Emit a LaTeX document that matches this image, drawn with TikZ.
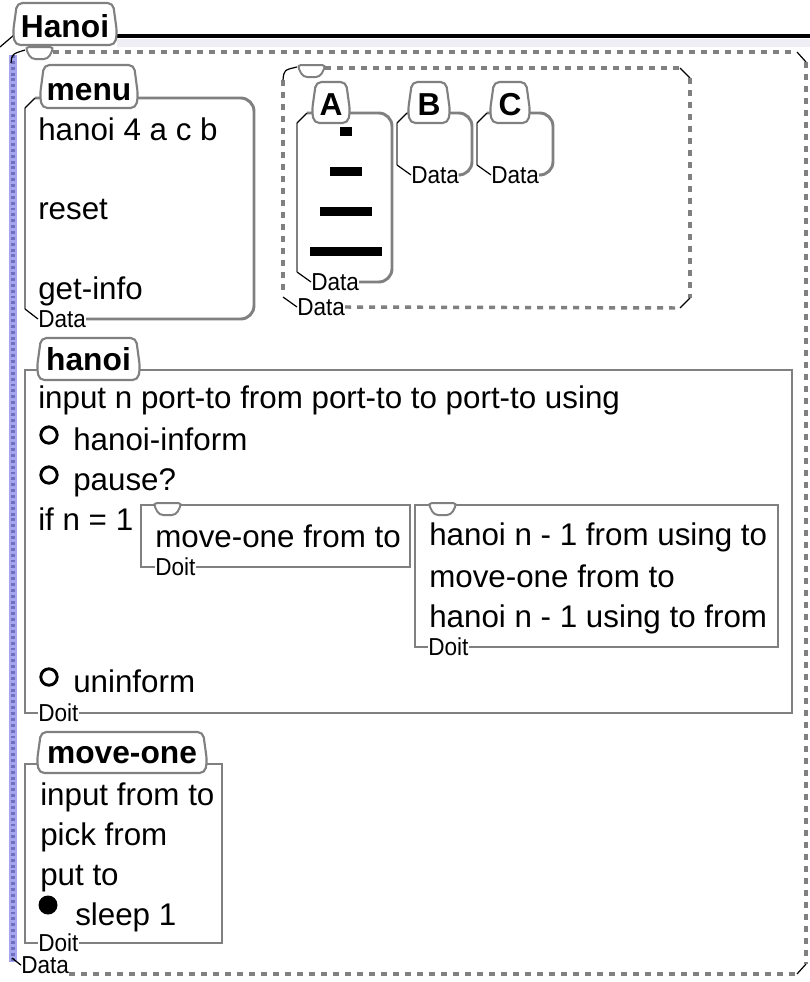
\documentclass[tikz,border=0pt]{standalone}
\usepackage{fontspec}
\setmainfont{Liberation Sans}
\newfontfamily\narrowfont[FakeStretch=0.92]{Liberation Sans}
\definecolor{boxgray}{HTML}{808080}
\definecolor{lavender}{HTML}{A6A6EE}
\definecolor{lavdash}{HTML}{7070C0}
\definecolor{bandgray}{HTML}{EEEEF4}
\begin{document}
\begin{tikzpicture}[x=0.75pt, y=-0.75pt,
	body/.style={boxgray, line width=2.2pt},
	dashbox/.style={boxgray, line width=2.6pt, dash pattern=on 4.5pt off 4.5pt},
	corner/.style={black, line width=0.9pt},
	tabline/.style={boxgray, line width=1.6pt, rounded corners=4pt, fill=white},
	txt/.style={anchor=base west, inner sep=0pt, font=\fontsize{23.5}{28}\selectfont},
	title/.style={anchor=base, inner sep=0pt, font=\fontsize{23.8}{28}\selectfont\bfseries},
	lbl/.style={anchor=west, inner sep=0pt, font=\narrowfont\fontsize{18.4}{20}\selectfont}]
	\useasboundingbox (0,0) rectangle (810,982);

	% outer Hanoi box
	\fill[bandgray] (117,39) rectangle (810,47);
	\draw[black, line width=3pt] (110,36) -- (810,36);
	\draw[corner] (0,47) -- (14,35);
	\fill[lavender] (9,55) rectangle (17,962);
	\draw[lavdash, line width=3pt, dash pattern=on 2.2pt off 2.2pt] (13,55) -- (13,962);
	\node[lbl, anchor=south west] (outerdata) at (21,974) {Data};
	\draw[corner] (11,63) .. controls (12,54) .. (25,50);
	\draw[dashbox] (53,52) -- (797,52);
	\draw[corner] (797,52) -- (806,62);
	\draw[dashbox] (806,62) -- (806,964);
	\draw[corner] (806,964) -- (797,974);
	\draw[dashbox] (outerdata.south east) -- (797,974);
	\draw[corner] (12,958) -- (outerdata.west);

	% menu
	\node[lbl] (menudata) at (38,319) {Data};
	\draw[body, rounded corners=10pt] (menudata.east) -- (254,319) -- (254,98) -- (35,98);
	\draw[body] (25,108) -- (25,309);
	\draw[corner] (25,108) -- (35,98);
	\draw[corner] (25,309) -- (menudata.west);
	\node[txt] (menu1) at (38,140) {hanoi 4 a c b};
	\node[txt] (menu2) at (38,219) {reset};
	\node[txt] (menu3) at (38,299) {get-info};

	% towers
	\node[lbl] (abcdata) at (297,307) {Data};
	\draw[dashbox] (283,80) -- (283,296);
	\draw[corner] (283,80) .. controls (284,70) .. (297,67);
	\draw[dashbox] (325,68) -- (680,68);
	\draw[corner] (680,68) -- (690,78);
	\draw[dashbox] (690,78) -- (690,298);
	\draw[corner] (690,298) -- (680,308);
	\draw[dashbox] (abcdata.east) -- (680,308);
	\draw[corner] (283,297) -- (abcdata.west);

	\node[lbl] (adata) at (311,282) {Data};
	\draw[body, rounded corners=10pt] (adata.east) -- (392,282) -- (392,113) -- (307,113);
	\draw[body] (297,123) -- (297,272);
	\draw[corner] (297,123) -- (307,113);
	\draw[corner] (297,272) -- (adata.west);
	\foreach \w/\y in {6/127, 16/167, 26/207, 36/247}
	\fill[black] (346-\w,\y) rectangle (346+\w,\y+9);

	\node[lbl] (bdata) at (411,175) {Data};
	\draw[body, rounded corners=10pt] (bdata.east) -- (472,175) -- (472,113) -- (407,113);
	\draw[body] (397,123) -- (397,165);
	\draw[corner] (397,123) -- (407,113);
	\draw[corner] (397,165) -- (bdata.west);

	\node[lbl] (cdata) at (491,175) {Data};
	\draw[body, rounded corners=10pt] (cdata.east) -- (553,175) -- (553,113) -- (487,113);
	\draw[body] (477,123) -- (477,165);
	\draw[corner] (477,123) -- (487,113);
	\draw[corner] (477,165) -- (cdata.west);

	% hanoi
	\node[lbl] (hanoidoit) at (38,713) {Doit};
	\draw[body] (hanoidoit.west) -- (25,713) -- (25,370) -- (792,370) -- (792,713) -- (hanoidoit.east);
	\node[txt] (h1) at (38,408) {input n port-to from port-to to port-to using};
	\node[txt] (h2) at (73,450) {hanoi-inform};
	\node[txt] (h3) at (73,490) {pause?};
	\node[txt] (h4) at (38,530) {if n = 1};
	\node[txt] (h9) at (73,692) {uninform};
	\foreach \y in {435, 475, 677}
	\draw[black, line width=2.2pt] (49,\y) circle [radius=8.2];

	\node[lbl] (onedoit) at (155,567) {Doit};
	\draw[body] (onedoit.west) -- (141,567) -- (141,505) -- (410,505) -- (410,567) -- (onedoit.east);
	\node[txt] (h5) at (155,547) {move-one from to};

	\node[lbl] (recdoit) at (428,647) {Doit};
	\draw[body] (recdoit.west) -- (415,647) -- (415,505) -- (778,505) -- (778,647) -- (recdoit.east);
	\node[txt] (h6) at (429,545) {hanoi n - 1 from using to};
	\node[txt] (h7) at (429,587) {move-one from to};
	\node[txt] (h8) at (429,627) {hanoi n - 1 using to from};

	% move-one
	\node[lbl] (movedoit) at (38,943) {Doit};
	\draw[body] (movedoit.west) -- (25,943) -- (25,764) -- (222,764) -- (222,943) -- (movedoit.east);
	\node[txt] (m1) at (40,805) {input from to};
	\node[txt] (m2) at (40,845) {pick from};
	\node[txt] (m3) at (40,885) {put to};
	\node[txt] (m4) at (75,925) {sleep 1};
	\fill[black] (48,905) circle [radius=9.5];

	% shut tabs
	\foreach \x/\y in {25/47, 297/65, 153/503, 428/503}
	\draw[tabline, line width=1.5pt, rounded corners=3pt] (\x,\y) -- (\x+29,\y) -- (\x+23,\y+12) -- (\x+6,\y+12) -- cycle;

	% name tabs
	\foreach \n/\xa/\xb/\ya/\yb/\b/\t in {hanoitab/13/117/3/45/37/Hanoi, menutab/40/138/65/108/100/menu, atab/312/350/82/123/115/A, btab/408/450/82/123/115/B, ctab/490/530/82/123/115/C, proctab/37/140/338/380/370/hanoi, movetab/37/207/732/773/763/move-one}
	{
		\draw[tabline] (\xa+2,\yb) -- (\xa,\ya+0.7*\yb-0.7*\ya) -- (\xa+4,\ya) -- (\xb-4,\ya) -- (\xb,\ya+0.7*\yb-0.7*\ya) -- (\xb-2,\yb) -- cycle;
		\node[title] (\n) at ({(\xa+\xb)/2},\b) {\t};
	}
\end{tikzpicture}
\end{document}
